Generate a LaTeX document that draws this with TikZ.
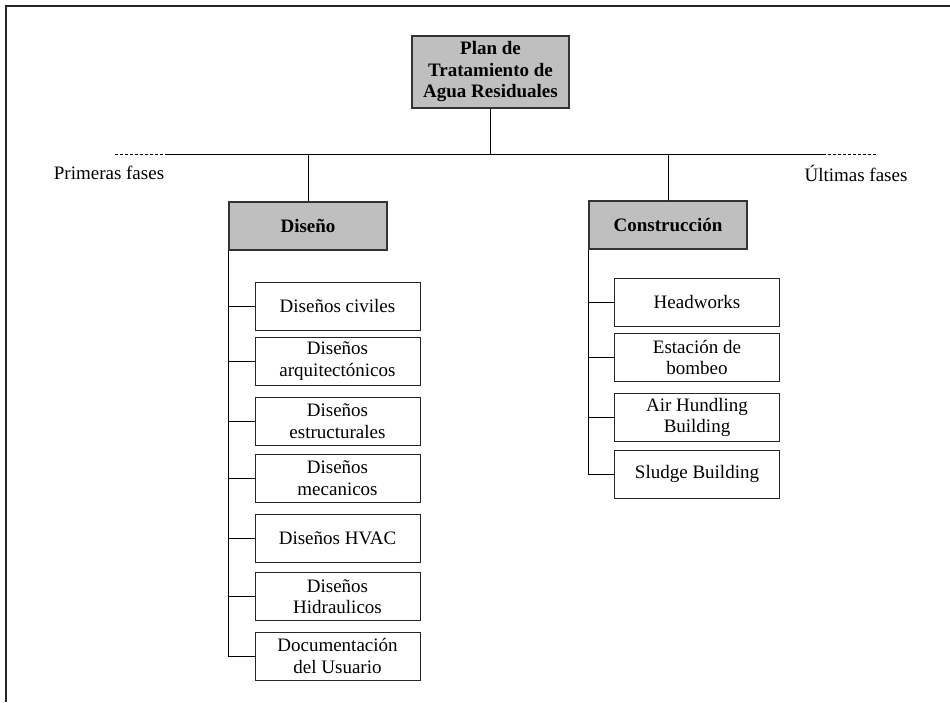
\documentclass[tikz,border=0pt]{standalone}
\usepackage{fontspec}
\setmainfont{Liberation Serif}
\begin{document}
\begin{tikzpicture}[x=1pt,y=-1pt,
  every node/.style={font=\fontsize{19}{21.5}\selectfont, inner sep=0pt, align=center},
  headbox/.style={draw=black!80, line width=1.2pt, fill=black!25, font=\fontsize{19}{21.5}\selectfont\bfseries},
  itembox/.style={draw=black!85, line width=1pt, fill=white, minimum width=165pt, minimum height=48pt},
  link/.style={line width=1pt, black}
]
\useasboundingbox (0,0) rectangle (950,702);

% frame
\draw[line width=1.6pt, black!85] (6,702) -- (6,6) -- (950,6);

% top
\node[headbox, minimum width=157pt, minimum height=72pt] (root) at (490.5,72) {Plan de\\Tratamiento de\\Agua Residuales};

% phase line
\coordinate (hl) at (168,154);
\coordinate (hr) at (823,154);
\coordinate (dl) at (115,154);
\coordinate (dr) at (877,154);
\draw[link] (hl) -- (hr);
\draw[link, dash pattern=on 3pt off 2pt] (dl) -- (hl);
\draw[link, dash pattern=on 3pt off 2pt] (hr) -- (dr);
\node (first) at (109,173) {Primeras fases};
\node (last) at (856,173) {Últimas fases};

% phases
\node[headbox, minimum width=158pt, minimum height=48pt] (dis) at (308,226) {Diseño};
\node[headbox, minimum width=158pt, minimum height=48pt] (con) at (668,225) {Construcción};

\draw[link] (root.south) -- (root.south |- hl);
\draw[link] (dis.north) -- (dis.north |- hl);
\draw[link] (con.north) -- (con.north |- hl);

% design items
\node[itembox] (d1) at (337.5,306) {Diseños civiles};
\node[itembox] (d2) at (337.5,361) {Diseños\\arquitectónicos};
\node[itembox] (d3) at (337.5,421) {Diseños\\estructurales};
\node[itembox] (d4) at (337.5,478) {Diseños\\mecanicos};
\node[itembox] (d5) at (337.5,538) {Diseños HVAC};
\node[itembox] (d6) at (337.5,596.5) {Diseños\\Hidraulicos};
\node[itembox] (d7) at (337.5,656) {Documentación\\del Usuario};

\draw[link] (dis.south west) |- (d7.west);
\foreach \n in {d1,d2,d3,d4,d5,d6}
  \draw[link] (dis.south west |- \n.west) -- (\n.west);

% construction items
\node[itembox] (c1) at (697,302) {Headworks};
\node[itembox] (c2) at (697,357.5) {Estación de\\bombeo};
\node[itembox] (c3) at (697,417.5) {Air Hundling\\Building};
\node[itembox] (c4) at (697,474) {Sludge Building};

\draw[link] (con.south west) |- (c4.west);
\foreach \n in {c1,c2,c3}
  \draw[link] (con.south west |- \n.west) -- (\n.west);
\end{tikzpicture}
\end{document}
